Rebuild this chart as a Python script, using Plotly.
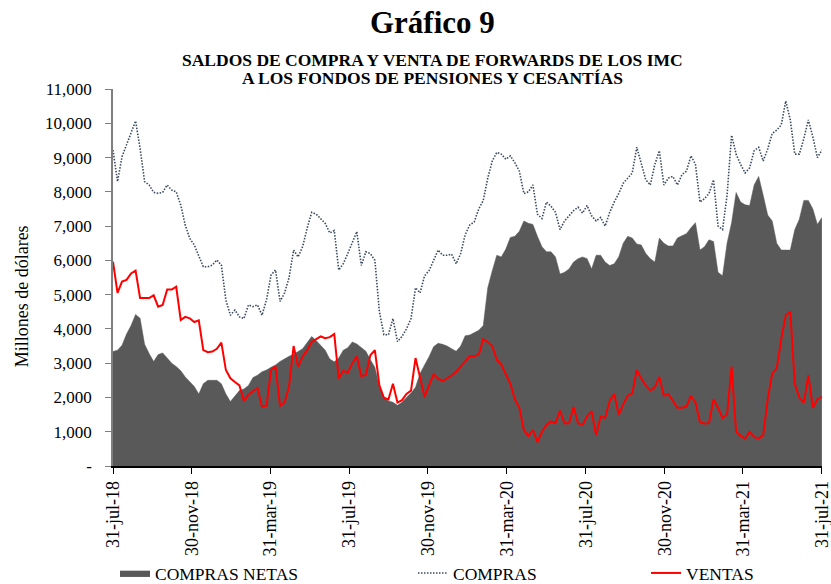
import pandas as pd
import plotly.graph_objects as go

# x categories: evenly spaced observation dates over the period
dates = pd.date_range("2018-07-31", "2021-07-31", periods=158)

compras_netas = [
    3340, 3380, 3520, 3850, 4100, 4420, 4310, 3550, 3280, 3050, 3250, 3300, 3150, 3000, 2900, 2780, 2600, 2450, 2320, 2100, 2400, 2500, 2510, 2500, 2400, 2100, 1880,
    2050, 2200, 2250, 2350, 2580, 2650, 2750, 2800, 2880, 2950, 3050, 3130, 3200, 3260, 3350, 3420, 3600, 3780, 3660, 3530, 3380, 3120, 3040, 3150, 3380,
    3450, 3620, 3560, 3450, 3350, 3100, 2880, 2320, 2020, 1900, 1860, 1770, 1860, 2000, 2130, 2300, 2700, 2950, 3190, 3480, 3580, 3550, 3500, 3420, 3350, 3500, 3800,
    3820, 3890, 3960, 4100, 5200, 5700, 6150, 6100, 6330, 6670, 6700, 6850, 7150, 7080, 7050, 6700, 6400, 6250, 6250, 6100, 5600, 5650, 5750, 5950, 6050, 6100,
    6050, 5750, 6150, 6150, 5950, 5850, 5900, 6100, 6500, 6700, 6650, 6480, 6450, 6200, 6050, 5950, 6650, 6500, 6420, 6420, 6650, 6720, 6780, 6950, 7100, 6300,
    6400, 6600, 6550, 5650, 5550, 6500, 7100, 7980, 7700, 7620, 7600, 8200, 8450, 7900, 7320, 7150, 6500, 6300, 6300, 6300, 6900, 7200, 7750, 7750, 7500, 7050, 7250,
]

compras = [
    9220, 8300, 9025, 9366, 9755, 10066, 9270, 8296, 8200, 7985, 7955, 7985, 8200, 8050, 8000, 7615, 7030, 6640, 6450, 6156, 5815, 5815, 5860, 6010, 5860, 4840, 4400,
    4550, 4350, 4300, 4700, 4650, 4700, 4400, 4850, 5570, 5720, 4800, 5050, 5500, 6300, 6100, 6400, 6940, 7400, 7350, 7200, 7080, 6800, 6870, 5720, 5900,
    6200, 6530, 6840, 5850, 6250, 6200, 6000, 4500, 3830, 3830, 4300, 3630, 3780, 4000, 4300, 5200, 5050, 5550, 5700, 6000, 6300, 6150, 6150, 6180, 5900, 6200, 6750,
    7030, 7120, 7500, 7750, 8400, 8900, 9150, 9100, 8950, 9050, 8850, 8600, 7950, 8000, 8200, 7350, 7220, 7700, 7580, 7400, 6900, 7150, 7300, 7450, 7550, 7380,
    7600, 7300, 7150, 7250, 7000, 7400, 7700, 7950, 8250, 8400, 8550, 9300, 8800, 8350, 8200, 8800, 9200, 8200, 8400, 8450, 8200, 8500, 8600, 9050, 8800, 7700,
    7800, 7950, 8350, 7000, 6900, 7900, 9650, 9100, 8800, 8550, 8700, 9200, 9300, 8900, 9250, 9700, 9800, 9950, 10650, 10100, 9100, 9100, 9550, 10100, 9600, 9000, 9220,
]

ventas = [
    5960, 5050, 5380, 5430, 5620, 5700, 4900, 4890, 4900, 4980, 4650, 4700, 5150, 5150, 5230, 4260, 4350, 4310, 4200, 4250, 3380, 3320, 3340, 3420, 3600, 2800, 2560,
    2450, 2350, 1900, 2080, 2180, 2280, 1730, 1760, 2800, 2900, 1760, 1850, 2330, 3500, 2900, 3200, 3380, 3620, 3700, 3780, 3730, 3760, 3850, 2550, 2780,
    2720, 3000, 3200, 2620, 2660, 3230, 3380, 2350, 1990, 1940, 2400, 1850, 1920, 2100, 2200, 3150, 2550, 2020, 2350, 2680, 2550, 2480, 2560, 2640, 2750, 2900, 3050,
    3200, 3200, 3250, 3700, 3620, 3500, 3100, 2960, 2700, 2400, 1950, 1700, 1050, 880, 1050, 700, 1000, 1200, 1300, 1250, 1620, 1250, 1250, 1720, 1250, 1200,
    1450, 1600, 900, 1450, 1400, 1900, 2100, 1500, 1800, 2050, 2120, 2800, 2550, 2350, 2200, 2300, 2600, 2050, 2100, 1900, 1700, 1700, 1740, 2050, 1850, 1280,
    1240, 1250, 1950, 1700, 1400, 1500, 2900, 1000, 880, 800, 1000, 850, 800, 900, 1950, 2700, 2850, 3700, 4400, 4500, 2400, 2000, 1850, 2650, 1700, 1950, 2020,
]

x_tick_dates = ["2018-07-31", "2018-11-30", "2019-03-31", "2019-07-31", "2019-11-30",
                "2020-03-31", "2020-07-31", "2020-11-30", "2021-03-31", "2021-07-31"]
x_tick_labels = ["31-jul-18", "30-nov-18", "31-mar-19", "31-jul-19", "30-nov-19",
                 "31-mar-20", "31-jul-20", "30-nov-20", "31-mar-21", "31-jul-21"]
y_tick_vals = [0, 1000, 2000, 3000, 4000, 5000, 6000, 7000, 8000, 9000, 10000, 11000]
y_tick_labels = ["-", "1,000", "2,000", "3,000", "4,000", "5,000", "6,000", "7,000",
                 "8,000", "9,000", "10,000", "11,000"]

FONT = "Liberation Serif, Times New Roman, serif"

fig = go.Figure()
fig.add_trace(go.Scatter(
    x=dates, y=compras_netas, name="COMPRAS NETAS", mode="lines",
    fill="tozeroy", fillcolor="#595959", line=dict(color="#595959", width=0.5),
    legend="legend",
))
fig.add_trace(go.Scatter(
    x=dates, y=compras, name="COMPRAS", mode="lines",
    line=dict(color="#3B4A5E", width=1.6, dash="1.5px,1.5px"),
    legend="legend2",
))
fig.add_trace(go.Scatter(
    x=dates, y=ventas, name="VENTAS", mode="lines",
    line=dict(color="#FF0000", width=2),
    legend="legend3",
))

leg_common = dict(orientation="h", yanchor="middle", xanchor="left",
                  yref="paper", y=-0.284, xref="container",
                  font=dict(family=FONT, size=17.5, color="#000000"),
                  bgcolor="rgba(0,0,0,0)", itemwidth=30)

fig.update_layout(
    width=831, height=584,
    margin=dict(l=113, r=9, t=89, b=118, autoexpand=False),
    plot_bgcolor="white", paper_bgcolor="white",
    font=dict(family=FONT, size=16, color="#000000"),
    showlegend=True,
    legend=dict(leg_common, x=115 / 831),
    legend2=dict(leg_common, x=413 / 831),
    legend3=dict(leg_common, x=646 / 831),
    xaxis=dict(
        type="date", automargin=False,
        range=["2018-07-31", "2021-07-31 04:00"],
        tickvals=x_tick_dates, ticktext=x_tick_labels,
        tickangle=-90, ticks="outside", ticklen=6, tickcolor="#000000",
        showline=True, linecolor="#000000", linewidth=1.5,
        showgrid=False, zeroline=False, ticklabeloverflow="allow",
        tickfont=dict(family=FONT, size=18, color="#000000"),
    ),
    yaxis=dict(
        range=[0, 11000], automargin=False,
        tickvals=y_tick_vals, ticktext=y_tick_labels,
        ticks="outside", ticklen=6, tickcolor="#7f7f7f",
        showline=True, linecolor="#7f7f7f", linewidth=1.5,
        showgrid=False, zeroline=False, ticklabelstandoff=10,
        tickfont=dict(family=FONT, size=17, color="#000000"),
    ),
    annotations=[
        dict(text="<b>Gráfico 9</b>", xref="paper", yref="paper", x=0.45, y=1.0,
             yshift=67, showarrow=False, xanchor="center", yanchor="middle",
             font=dict(family=FONT, size=31, color="#000000")),
        dict(text="<b>SALDOS DE COMPRA Y VENTA DE FORWARDS DE LOS IMC</b>", xref="paper", yref="paper",
             x=0.45, y=1.0, yshift=29, showarrow=False, xanchor="center", yanchor="middle",
             font=dict(family=FONT, size=17.5, color="#000000")),
        dict(text="<b>A LOS FONDOS DE PENSIONES Y CESANTÍAS</b>", xref="paper", yref="paper",
             x=0.45, y=1.0, yshift=11, showarrow=False, xanchor="center", yanchor="middle",
             font=dict(family=FONT, size=17.5, color="#000000")),
        dict(text="Millones de dólares", xref="paper", yref="paper", x=0, xshift=-91,
             y=0.45, textangle=-90, showarrow=False, xanchor="center", yanchor="middle",
             font=dict(family=FONT, size=18, color="#000000")),
    ],
)

fig.write_html(
    "out.html",
    config={"displayModeBar": False},
    post_script="document.body.style.margin='0';document.body.style.padding='0';",
)
